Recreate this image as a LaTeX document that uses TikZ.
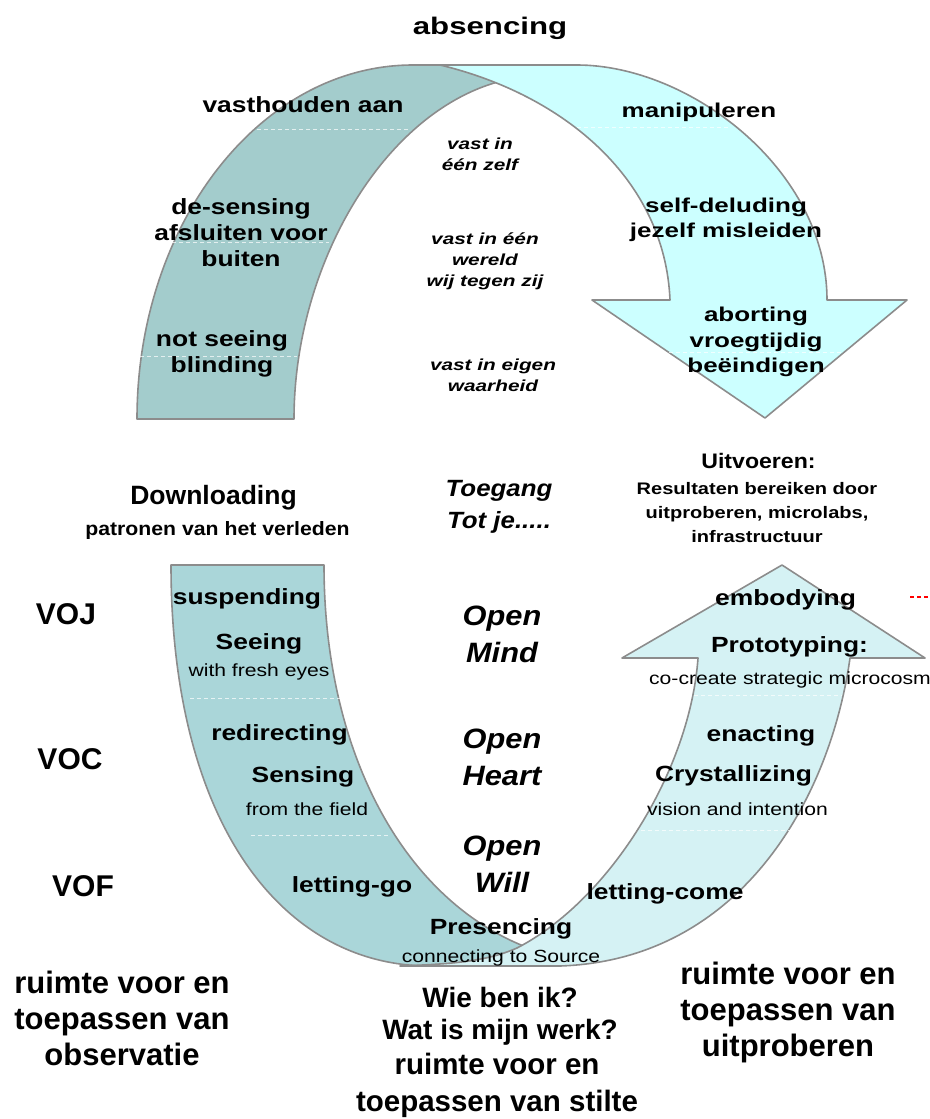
\documentclass[tikz,border=0pt]{standalone}
\usepackage{fontspec}
\setmainfont{Liberation Sans}
\newfontfamily\sA[FakeStretch=1.1]{Liberation Sans}
\newfontfamily\sB[FakeStretch=1.2]{Liberation Sans}
\newfontfamily\sC[FakeStretch=1.3]{Liberation Sans}
\newcommand\fs[2]{\fontsize{#1}{#2}\selectfont}

\definecolor{tealA}{RGB}{163,204,204}
\definecolor{cyanA}{RGB}{204,255,255}
\definecolor{tealB}{RGB}{170,214,217}
\definecolor{cyanB}{RGB}{213,242,244}
\definecolor{edgegray}{RGB}{140,140,140}

\tikzset{
  band/.style={draw=edgegray, line width=1.6pt, line join=round},
  sep/.style={draw=white, line width=0.8pt, dash pattern=on 4pt off 3pt, opacity=0.7},
  reddash/.style={draw=red, line width=1.3pt, dash pattern=on 4pt off 3pt},
  txt/.style={inner sep=0pt, align=center, text=black},
  head/.style={txt, font=\sC\bfseries\fs{24}{28}},
  upl/.style={txt, font=\sB\bfseries\fs{22}{25.8}},
  upr/.style={txt, font=\sC\bfseries\fs{20}{25.5}},
  vast/.style={txt, font=\sC\bfseries\itshape\fs{16}{20.8}},
  lob/.style={txt, font=\sB\bfseries\fs{22}{26}},
  lor/.style={txt, font=\sB\fs{17.6}{21}},
  openst/.style={txt, font=\sA\bfseries\itshape\fs{28}{37}},
  vo/.style={txt, font=\bfseries\fs{30}{36}},
  bigst/.style={txt, font=\bfseries\fs{31}{36}},
}

\begin{document}
\begin{tikzpicture}[x=1pt, y=-1pt]
\useasboundingbox (0,0) rectangle (929,1119);

% ---------- upper loop: holding on (left half) ----------
\path[band, fill=tealA]
  (137,419) .. controls (137,223) and (261,65) .. (413,65)
  -- (530,65) -- (515,78)
  .. controls (390,100) and (294,260) .. (294,419) -- cycle;

% ---------- upper loop: arrow pointing down (right half) ----------
\path[band, fill=cyanA]
  (440,65) -- (577,65)
  .. controls (690,65) and (827,170) .. (827,300)
  -- (907,300) -- (765,418) -- (592,300) -- (670,300)
  .. controls (665,180) and (565,95) .. (440,65) -- cycle;

% ---------- lower U: letting go (left half) ----------
\path[band, fill=tealB]
  (171,565) -- (324,565)
  .. controls (324,760) and (410,910) .. (540,952)
  -- (540,966) -- (430,966)
  .. controls (280,966) and (171,820) .. (171,565) -- cycle;

% ---------- lower U: arrow pointing up (right half) ----------
\path[band, fill=cyanB]
  (400,966) .. controls (450,964) and (485,962) .. (517,948)
  .. controls (610,900) and (690,770) .. (698,658)
  -- (622,658) -- (782,565) -- (925,658) -- (850,658)
  .. controls (830,800) and (740,960) .. (560,966) -- cycle;

% ---------- faint separators inside the bands ----------
\draw[sep] (257,129) -- (408,129);
\draw[sep] (165,242) -- (329,242);
\draw[sep] (140,356) -- (297,356);
\draw[sep] (577,127) -- (729,127);
\draw[sep] (669,352) -- (843,352);
\draw[sep] (190,698) -- (341,698);
\draw[sep] (251,835) -- (389,835);
\draw[sep] (694,695) -- (842,695);
\draw[sep] (641,830) -- (793,830);

% short red dashes at the right border
\coordinate (redA) at (910,597);
\coordinate (redB) at (929,597);
\draw[reddash] (redA) -- (redB);

% ---------- labels: upper loop ----------
\node[head] (absencing) at (490,28) {absencing};
\node[upl] (vasthouden) at (303,105) {vasthouden aan};
\node[upl] (desensing) at (241,232.5) {de-sensing\\afsluiten voor\\buiten};
\node[upl] (notseeing) at (222,354) {not seeing\\blinding};
\node[upr] (manipuleren) at (699,112) {manipuleren};
\node[upr] (selfdeluding) at (726,220) {self-deluding\\jezelf misleiden};
\node[upr] (aborting) at (756,342) {aborting\\vroegtijdig\\beëindigen};
\node[vast] (vastzelf) at (480,154) {vast in\\één zelf};
\node[vast] (vastwereld) at (485,261) {vast in één\\wereld\\wij tegen zij};
\node[vast] (vastwaarheid) at (493,375) {vast in eigen\\waarheid};

% ---------- labels: middle ----------
\node[txt, font=\bfseries\fs{26.5}{30}] (downloading) at (213.5,498) {Downloading};
\node[txt, font=\sA\bfseries\fs{19.3}{23}] (patronen) at (217.5,531) {patronen van het verleden};
\node[txt, font=\sA\bfseries\itshape\fs{23.5}{32}] (toegang) at (499,507) {Toegang\\Tot je.....};
\node[txt, font=\sA\bfseries\fs{21}{25}] (uitvoeren) at (758.5,460.5) {Uitvoeren:};
\node[txt, font=\sB\bfseries\fs{16.7}{24.2}] (resultaten) at (757,512.5)
  {Resultaten bereiken door\\uitproberen, microlabs,\\infrastructuur};

% ---------- labels: lower U ----------
\node[vo] (voj) at (66,614) {VOJ};
\node[vo] (voc) at (70,759) {VOC};
\node[vo] (vof) at (83,886) {VOF};

\node[lob] (suspending) at (247,598.5) {suspending};
\node[lob] (seeing) at (259,643.5) {Seeing};
\node[lor] (fresheyes) at (259,671.5) {with fresh eyes};
\node[lob] (redirecting) at (279.5,735) {redirecting};
\node[lob] (sensing) at (303,777) {Sensing};
\node[lor] (field) at (307,809.5) {from the field};
\node[lob] (lettinggo) at (352,887) {letting-go};
\node[lob] (presencing) at (501,929) {Presencing};
\node[lor] (source) at (501,958) {connecting to Source};

\node[openst] (openmind) at (502,634) {Open\\Mind};
\node[openst] (openheart) at (502,757) {Open\\Heart};
\node[openst] (openwill) at (502,864) {Open\\Will};

\node[lob] (embodying) at (785.5,600) {embodying};
\node[lob] (prototyping) at (789.5,647) {Prototyping:};
\node[lor] (microcosm) at (790,679.5) {co-create strategic microcosm};
\node[lob] (enacting) at (761,736) {enacting};
\node[lob] (crystallizing) at (733.5,775.5) {Crystallizing};
\node[lor] (vision) at (737.5,809) {vision and intention};
\node[lob] (lettingcome) at (665,893.5) {letting-come};

% ---------- labels: bottom ----------
\node[bigst] (observatie) at (122,1018) {ruimte voor en\\toepassen van\\observatie};
\node[bigst] (uitproberen) at (788,1012) {ruimte voor en\\toepassen van\\uitproberen};
\node[txt, font=\bfseries\fs{28}{32}] (wiebenik) at (500,1016) {Wie ben ik?\\Wat is mijn werk?};
\node[txt, font=\bfseries\fs{29.5}{37}] (stilte) at (497,1085) {ruimte voor en\\toepassen van stilte};
\end{tikzpicture}
\end{document}
